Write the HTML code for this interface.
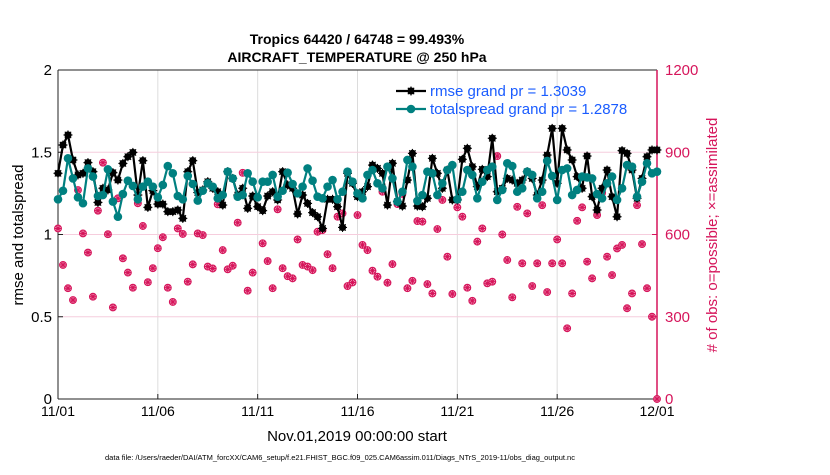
<!DOCTYPE html>
<html><head><meta charset="utf-8"><style>
body{margin:0;background:#fff;width:830px;height:470px;overflow:hidden}
svg{font-family:"Liberation Sans",sans-serif}
</style></head><body>
<svg id="chart" width="830" height="470" xmlns="http://www.w3.org/2000/svg">
<text x="357" y="44" text-anchor="middle" font-size="14" font-weight="bold">Tropics 64420 / 64748 = 99.493%</text>
<text x="357" y="62" text-anchor="middle" font-size="14" font-weight="bold">AIRCRAFT_TEMPERATURE @ 250 hPa</text>
<g id="grid"></g><g id="axes"></g><g id="series"></g><g id="legend"></g>
<text transform="translate(23,235) rotate(-90)" text-anchor="middle" font-size="15">rmse and totalspread</text>
<text transform="translate(717,235) rotate(-90)" text-anchor="middle" font-size="15" fill="#d6155b"># of obs: o=possible; ×=assimilated</text>
<text x="357" y="441" text-anchor="middle" font-size="15">Nov.01,2019 00:00:00 start</text>
<text x="340" y="460" text-anchor="middle" font-size="7.5">data file: /Users/raeder/DAI/ATM_forcXX/CAM6_setup/f.e21.FHIST_BGC.f09_025.CAM6assim.011/Diags_NTrS_2019-11/obs_diag_output.nc</text>
</svg>
<script>
const xTickLabels=["11/01","11/06","11/11","11/16","11/21","11/26","12/01"];
const yTicks=[0,0.5,1,1.5,2];
const y2Ticks=[0,300,600,900,1200];
const rmse=[1.372,1.544,1.605,1.453,1.362,1.372,1.437,1.382,1.195,1.281,1.271,1.376,1.331,1.432,1.473,1.499,1.240,1.449,1.165,1.267,1.185,1.185,1.139,1.139,1.149,1.098,1.382,1.449,1.255,1.271,1.321,
1.281,1.260,1.179,1.382,1.341,1.240,1.281,1.159,1.234,1.169,1.145,1.234,1.260,1.210,1.382,1.301,1.281,1.125,1.240,1.189,1.133,1.108,1.037,1.214,1.214,1.169,1.043,1.372,1.311,1.230,
1.260,1.291,1.422,1.402,1.372,1.179,1.433,1.200,1.173,1.331,1.493,1.173,1.169,1.220,1.463,1.372,1.281,1.392,1.210,1.210,1.457,1.524,1.412,1.291,1.396,1.352,1.585,1.260,1.281,1.341,
1.331,1.311,1.331,1.382,1.341,1.240,1.331,1.483,1.645,1.311,1.645,1.514,1.453,1.352,1.281,1.477,1.230,1.149,1.281,1.392,1.230,1.108,1.510,1.493,1.392,1.220,1.341,1.473,1.514,1.514];
const spread=[1.214,1.266,1.463,1.341,1.226,1.190,1.402,1.352,1.234,1.240,1.396,1.200,1.108,1.246,1.327,1.295,1.214,1.291,1.321,1.291,1.226,1.301,1.416,1.372,1.234,1.214,1.356,1.307,1.206,1.266,1.311,
1.291,1.220,1.240,1.382,1.341,1.230,1.240,1.372,1.321,1.226,1.321,1.321,1.362,1.230,1.266,1.376,1.307,1.250,1.291,1.402,1.327,1.230,1.220,1.291,1.331,1.214,1.260,1.382,1.321,1.250,
1.220,1.362,1.392,1.311,1.281,1.412,1.341,1.200,1.260,1.453,1.412,1.204,1.240,1.382,1.372,1.240,1.311,1.392,1.422,1.214,1.260,1.392,1.362,1.220,1.321,1.392,1.412,1.210,1.271,1.433,
1.416,1.260,1.281,1.382,1.362,1.220,1.260,1.447,1.356,1.210,1.392,1.402,1.240,1.271,1.352,1.347,1.341,1.246,1.220,1.311,1.352,1.210,1.281,1.422,1.412,1.230,1.321,1.433,1.372,1.382];
const nobs=[622,489,404,361,762,604,534,373,687,862,601,334,732,513,461,406,714,631,426,477,550,590,406,354,622,602,428,491,604,598,483,
476,710,543,473,486,643,825,395,461,735,568,503,404,692,477,448,440,582,489,483,470,610,616,528,477,665,677,412,425,671,
562,543,468,446,756,424,492,711,748,404,431,649,647,419,385,620,726,519,383,699,665,406,358,574,622,422,428,886,600,507,
371,701,495,677,412,495,707,390,495,582,495,258,385,650,699,501,440,671,752,519,452,549,562,331,385,707,565,404,300,0];
const NS="http://www.w3.org/2000/svg";
const X0=58,X1=657,Y0=399,Y1=70;
const xs=i=>X0+(X1-X0)*i/(rmse.length-1);
const ys=v=>Y0-(Y0-Y1)*v/2;
const ys2=v=>Y0-(Y0-Y1)*v/1200;
function mk(tag,attrs,parent){const e=document.createElementNS(NS,tag);for(const k in attrs)e.setAttribute(k,attrs[k]);parent.appendChild(e);return e;}
const grid=document.getElementById('grid'),axes=document.getElementById('axes'),series=document.getElementById('series'),legend=document.getElementById('legend');
mk('rect',{x:X0,y:Y1,width:X1-X0,height:Y0-Y1,fill:'#fff'},grid);
xTickLabels.forEach((t,i)=>{const x=X0+(X1-X0)*i/(xTickLabels.length-1);
 if(i>0&&i<xTickLabels.length-1){const l=mk('line',{x1:x,x2:x,y1:Y1,y2:Y0,stroke:'#dcdcdc','stroke-width':1},grid);
 
 }
 mk('line',{x1:x,x2:x,y1:Y0,y2:Y0-5,stroke:'#222'},axes);
 const tx=mk('text',{x:x,y:Y0+17,'text-anchor':'middle','font-size':14},axes);tx.textContent=t;
 
 });
yTicks.forEach(v=>{const y=ys(v);
 if(v>0&&v<2){const l=mk('line',{x1:X0,x2:X1,y1:y,y2:y,stroke:'#f6cddd','stroke-width':1},grid);
 
 }
 mk('line',{x1:X0,x2:X0+5,y1:y,y2:y,stroke:'#222'},axes);
 const tx=mk('text',{x:X0-6,y:y+5,'text-anchor':'end','font-size':15},axes);tx.textContent=String(v);
 
 });
y2Ticks.forEach(v=>{const y=ys2(v);
 mk('line',{x1:X1-5,x2:X1,y1:y,y2:y,stroke:'#d6155b'},axes);
 const tx=mk('text',{x:X1+8,y:y+5,'font-size':15,fill:'#d6155b'},axes);tx.textContent=String(v);
 
 });
mk('line',{x1:X0,x2:X1,y1:Y1,y2:Y1,stroke:'#222'},axes);
mk('line',{x1:X0,x2:X1,y1:Y0,y2:Y0,stroke:'#222'},axes);
mk('line',{x1:X0,x2:X0,y1:Y1,y2:Y0,stroke:'#222'},axes);
mk('line',{x1:X1,x2:X1,y1:Y1,y2:Y0,stroke:'#d6155b','stroke-width':1.5},axes);
function star(g,x,y,r,c){for(let a=0;a<4;a++){const t=a*Math.PI/4;mk('line',{x1:x-r*Math.cos(t),y1:y-r*Math.sin(t),x2:x+r*Math.cos(t),y2:y+r*Math.sin(t),stroke:c,'stroke-width':1.1},g);}}
const gObs=mk('g',{},series);


nobs.forEach((v,i)=>{const x=xs(i),y=ys2(v);
 const c=mk('circle',{cx:x,cy:y,r:3.4,fill:'#f7c6d8',stroke:'#d6155b','stroke-width':1.1},gObs);
 
 
 star(gObs,x,y,3.6,'#d6155b');});
function line(arr,color,name,starred){const g=mk('g',{},series);
 
 
 mk('polyline',{points:arr.map((v,i)=>xs(i)+','+ys(v)).join(' '),fill:'none',stroke:color,'stroke-width':2.2},g);
 arr.forEach((v,i)=>{const c=mk('circle',{cx:xs(i),cy:ys(v),r:starred?3.6:4.3,fill:color},g);
 
 
 if(starred)star(g,xs(i),ys(v),4.5,color);});}
line(rmse,'#000','rmse-series',true);
line(spread,'#008080','totalspread-series',false);
[['rmse grand pr = 1.3039','#000',true,91,'legend-entry-rmse'],['totalspread grand pr = 1.2878','#008080',false,109,'legend-entry-totalspread']].forEach(d=>{
 const g=mk('g',{},legend);
 
 
 mk('line',{x1:396,x2:426,y1:d[3],y2:d[3],stroke:d[1],'stroke-width':2.2},g);
 mk('circle',{cx:411,cy:d[3],r:d[2]?3.6:4.3,fill:d[1]},g);
 if(d[2])star(g,411,d[3],4.5,d[1]);
 const t=mk('text',{x:430,y:d[3]+5,'font-size':15,fill:'#1a5cff'},g);t.textContent=d[0];});
</script>
</body></html>
